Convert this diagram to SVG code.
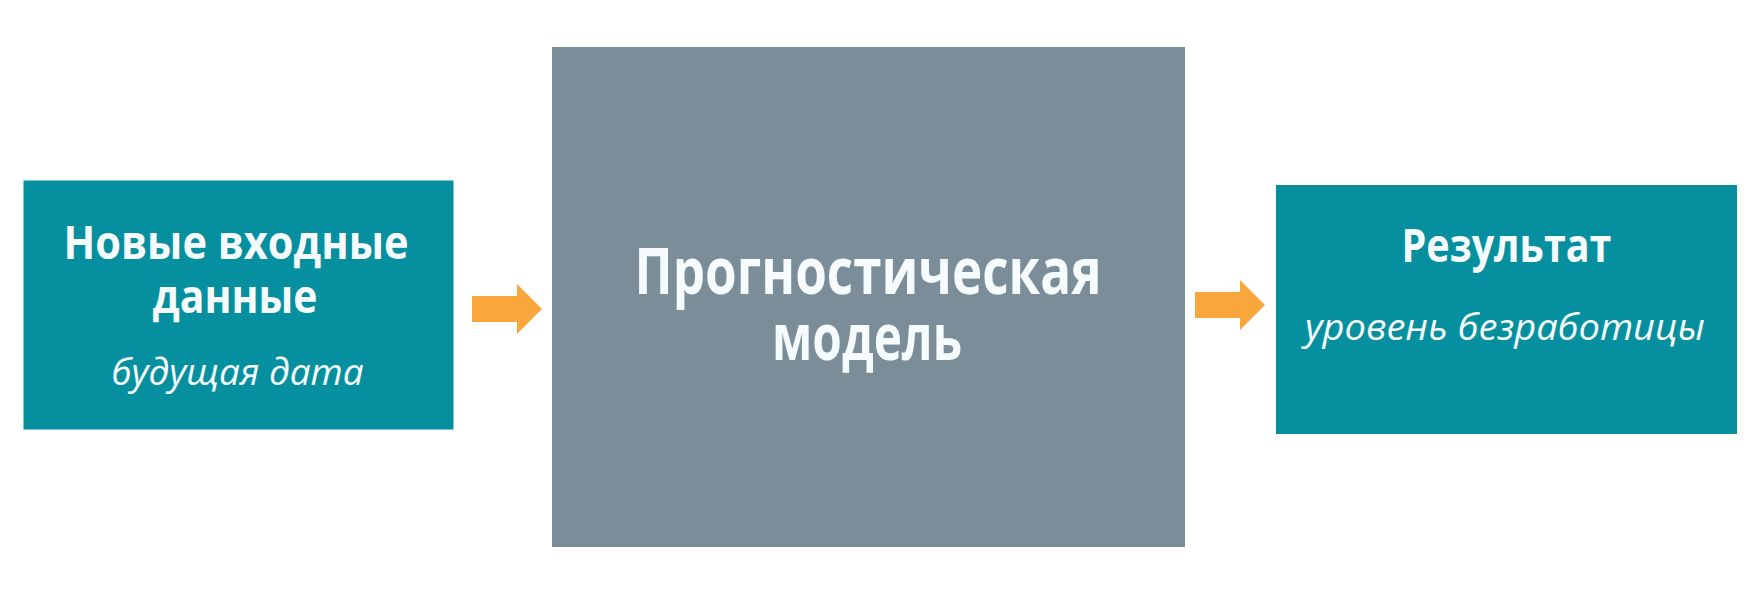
<svg xmlns="http://www.w3.org/2000/svg" width="1757" height="592" viewBox="0 0 1757 592">
  <style>
    .teal { fill: #06909F; }
    .grey { fill: #7A8D98; }
    .title { font-family: "Open Sans", "Noto Sans", "DejaVu Sans", sans-serif; font-weight: 700; fill: #F6FCFD; text-anchor: middle; }
    .sub { font-family: "Open Sans", "Noto Sans", "DejaVu Sans", sans-serif; font-style: italic; font-weight: 400; fill: #F6FCFD; text-anchor: middle; font-size: 36px; }
    .arrow { fill: #F9A63D; }
  </style>
  <defs>
    <path id="arrowShape" d="M0,-13 L45,-13 L45,-25 L70,0 L45,25 L45,13 L0,13 Z"/>
  </defs>
  <rect x="0" y="0" width="1757" height="592" fill="#FFFFFF"/>

  <g id="node-input">
    <rect class="teal" x="23.5" y="180.5" width="430" height="249"/>
    <text class="title" x="236" y="259" font-size="47" textLength="345" lengthAdjust="spacingAndGlyphs">Новые входные</text>
    <text class="title" x="235" y="313" font-size="47" textLength="165" lengthAdjust="spacingAndGlyphs">данные</text>
    <text class="sub" x="237.5" y="385" textLength="252" lengthAdjust="spacingAndGlyphs">будущая дата</text>
  </g>

  <g id="node-model">
    <rect class="grey" x="552" y="47" width="633" height="500"/>
    <text class="title" x="868" y="293.5" font-size="64" textLength="467" lengthAdjust="spacingAndGlyphs">Прогностическая</text>
    <text class="title" x="867" y="360" font-size="64" textLength="190" lengthAdjust="spacingAndGlyphs">модель</text>
  </g>

  <g id="node-result">
    <rect class="teal" x="1276" y="185" width="461" height="249"/>
    <text class="title" x="1506.5" y="262" font-size="47" textLength="210" lengthAdjust="spacingAndGlyphs">Результат</text>
    <text class="sub" x="1505" y="340" textLength="400" lengthAdjust="spacingAndGlyphs">уровень безработицы</text>
  </g>

  <g id="connectors">
    <use href="#arrowShape" class="arrow" transform="translate(472,309)"/>
    <use href="#arrowShape" class="arrow" transform="translate(1195,305)"/>
  </g>
</svg>
